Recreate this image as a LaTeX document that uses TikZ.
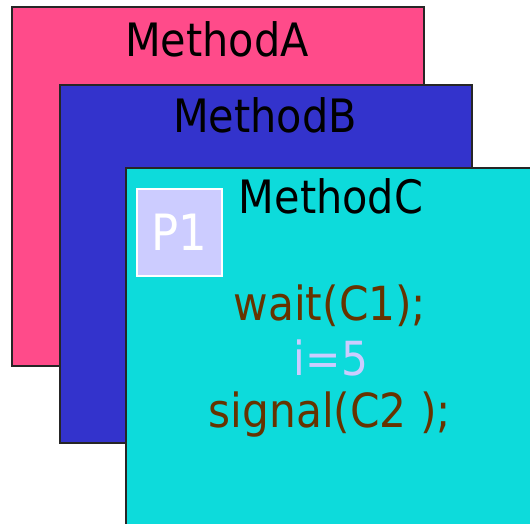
\documentclass[tikz,border=0pt]{standalone}
\usepackage{fontspec}
\setmainfont{DejaVu Sans Condensed}
\usepackage{xcolor}
\definecolor{methodpink}{RGB}{255,75,138}
\definecolor{methodblue}{RGB}{51,51,204}
\definecolor{methodcyan}{RGB}{13,219,219}
\definecolor{codebrown}{RGB}{102,51,0}
\definecolor{lavender}{RGB}{204,204,255}

\begin{document}
\begin{tikzpicture}[x=1pt, y=-1pt,
    methodbox/.style={draw=black!85, line width=1.9pt, rectangle, anchor=north west, inner sep=0pt},
    title/.style={anchor=base, font=\fontsize{46}{50}\selectfont, text=black},
    code/.style={anchor=base, font=\fontsize{47}{50}\selectfont}]
    \useasboundingbox (0,0) rectangle (530,523);
    \clip (0,0) rectangle (530,523);
    \node[methodbox, fill=methodpink, minimum width=412pt, minimum height=359pt] (boxA) at (11,6) {};
    \node[title] (labA) at (217,56) {MethodA};
    \node[methodbox, fill=methodblue, minimum width=412pt, minimum height=358pt] (boxB) at (59,84) {};
    \node[title] (labB) at (265,132) {MethodB};
    \node[methodbox, fill=methodcyan, minimum width=440pt, minimum height=390pt] (boxC) at (125,167) {};
    \node[title] (labC) at (331,213) {MethodC};
    \node[draw=white, line width=1.6pt, fill=lavender, rectangle, minimum width=85pt, minimum height=87pt, text=white, font=\fontsize{50}{52}\selectfont] (p1) at (179.5,232.5) {P1};
    \node[code, text=codebrown] (waitln) at (330,320) {wait(C1);};
    \node[code, text=lavender] (assignln) at (331,375) {i=5};
    \node[code, text=codebrown] (signalln) at (330,427) {signal(C2 );};
\end{tikzpicture}
\end{document}
